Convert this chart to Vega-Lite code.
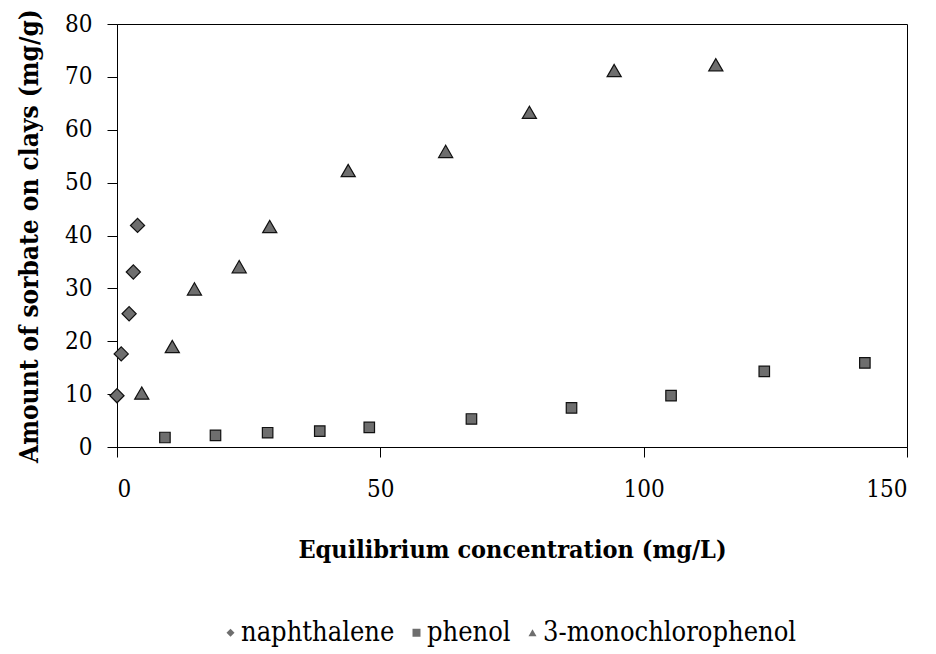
{
  "$schema": "https://vega.github.io/schema/vega-lite/v6.json",
  "autosize": "none",
  "width": 790,
  "height": 423,
  "padding": {"left": 117, "top": 24, "right": 29, "bottom": 207},
  "background": "white",
  "config": {
    "font": "DejaVu Serif Condensed, DejaVu Serif",
    "view": {"stroke": "black", "strokeWidth": 1},
    "axis": {
      "grid": false,
      "domainColor": "black",
      "tickColor": "black",
      "labelColor": "black",
      "titleColor": "black",
      "labelFont": "DejaVu Serif Condensed, DejaVu Serif",
      "titleFont": "DejaVu Serif Condensed, DejaVu Serif",
      "labelFontSize": 24,
      "titleFontWeight": "bold",
      "tickSize": 10
    }
  },
  "data": {
    "values": [
      {"series": "naphthalene", "x": 0.0, "y": 9.7},
      {"series": "naphthalene", "x": 0.8, "y": 17.6},
      {"series": "naphthalene", "x": 2.3, "y": 25.2},
      {"series": "naphthalene", "x": 3.1, "y": 33.1},
      {"series": "naphthalene", "x": 3.9, "y": 41.9},
      {"series": "phenol", "x": 9.1, "y": 1.8},
      {"series": "phenol", "x": 18.7, "y": 2.2},
      {"series": "phenol", "x": 28.6, "y": 2.7},
      {"series": "phenol", "x": 38.5, "y": 3.0},
      {"series": "phenol", "x": 47.9, "y": 3.7},
      {"series": "phenol", "x": 67.3, "y": 5.3},
      {"series": "phenol", "x": 86.3, "y": 7.4},
      {"series": "phenol", "x": 105.2, "y": 9.7},
      {"series": "phenol", "x": 122.9, "y": 14.3},
      {"series": "phenol", "x": 142.0, "y": 15.9},
      {"series": "3-monochlorophenol", "x": 4.7, "y": 10.2},
      {"series": "3-monochlorophenol", "x": 10.5, "y": 19.0},
      {"series": "3-monochlorophenol", "x": 14.7, "y": 29.9},
      {"series": "3-monochlorophenol", "x": 23.2, "y": 34.1},
      {"series": "3-monochlorophenol", "x": 29.0, "y": 41.7},
      {"series": "3-monochlorophenol", "x": 43.9, "y": 52.3},
      {"series": "3-monochlorophenol", "x": 62.4, "y": 55.9},
      {"series": "3-monochlorophenol", "x": 78.3, "y": 63.3},
      {"series": "3-monochlorophenol", "x": 94.4, "y": 71.2},
      {"series": "3-monochlorophenol", "x": 113.7, "y": 72.3}
    ]
  },
  "encoding": {
    "x": {
      "field": "x", "type": "quantitative",
      "scale": {"domain": [0, 150], "nice": false},
      "axis": {"values": [0, 50, 100, 150], "title": "Equilibrium concentration (mg/L)", "titleFontSize": 25, "labelPadding": 20, "titlePadding": 36}
    },
    "y": {
      "field": "y", "type": "quantitative",
      "scale": {"domain": [0, 80], "nice": false},
      "axis": {"values": [0, 10, 20, 30, 40, 50, 60, 70, 80], "title": "Amount of sorbate on clays (mg/g)", "titleFontSize": 26, "labelPadding": 15, "titlePadding": 22}
    },
    "shape": {
      "field": "series", "type": "nominal",
      "scale": {"domain": ["naphthalene", "phenol", "3-monochlorophenol"], "range": ["diamond", "square", "triangle-up"]},
      "legend": {
        "title": null, "orient": "none", "legendX": 100, "legendY": 595, "padding": 0,
        "direction": "horizontal", "symbolSize": 64,
        "symbolFillColor": "#777777", "symbolStrokeColor": "#333333", "symbolStrokeWidth": 1,
        "labelFont": "DejaVu Serif Condensed, DejaVu Serif", "labelFontSize": 27, "labelColor": "black", "labelLimit": 500,
        "labelOffset": -3, "columnPadding": 8
      }
    }
  },
  "layer": [
    {
      "transform": [{"filter": "datum.series === 'naphthalene'"}],
      "mark": {"type": "point", "filled": true, "fill": "#6e6e6e", "stroke": "#111111", "strokeWidth": 1.2, "opacity": 1, "size": 200}
    },
    {
      "transform": [{"filter": "datum.series === 'phenol'"}],
      "mark": {"type": "point", "filled": true, "fill": "#6e6e6e", "stroke": "#111111", "strokeWidth": 1.2, "opacity": 1, "size": 110}
    },
    {
      "transform": [{"filter": "datum.series === '3-monochlorophenol'"}],
      "mark": {"type": "point", "filled": true, "fill": "#6e6e6e", "stroke": "#111111", "strokeWidth": 1.2, "opacity": 1, "size": 200}
    }
  ]
}
